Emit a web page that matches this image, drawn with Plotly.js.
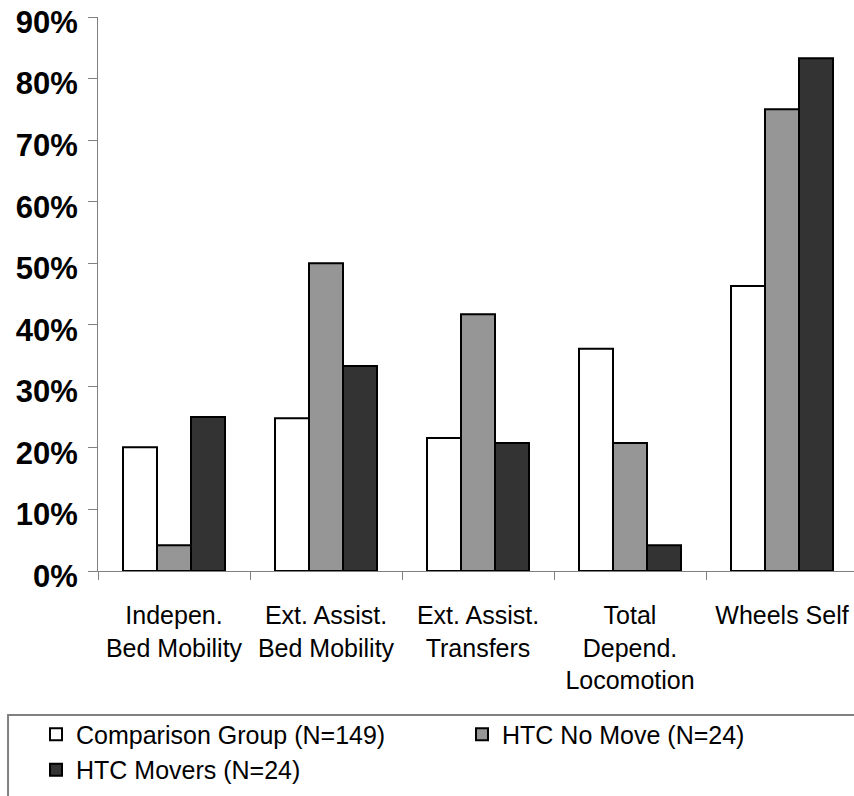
<!DOCTYPE html>
<html>
<head>
<meta charset="utf-8">
<script src="https://cdn.plot.ly/plotly-3.0.1.min.js"></script>
<style>
  html, body { margin: 0; padding: 0; background: #fff; }
  #chart { width: 854px; height: 796px; }
</style>
</head>
<body>
<div id="chart"></div>
<script>
var categories = ["Indepen.<br>Bed Mobility", "Ext. Assist.<br>Bed Mobility", "Ext. Assist.<br>Transfers",
                  "Total<br>Depend.<br>Locomotion", "Wheels Self"];
var comparison = [20.1, 24.8, 21.6, 36.1, 46.3];
var noMove = [4.2, 50.0, 41.7, 20.8, 75.0];
var movers = [25.0, 33.3, 20.8, 4.2, 83.3];
var seriesNames = ["Comparison Group (N=149)", "HTC No Move (N=24)", "HTC Movers (N=24)"];

var font = "Arial, 'Liberation Sans', sans-serif";
var outline = {color: "#000", width: 2};

var trace1 = {
    x: categories, y: comparison, name: seriesNames[0], type: "bar",
    marker: {color: "#ffffff", line: outline}, legend: "legend"
};
var trace2 = {
    x: categories, y: noMove, name: seriesNames[1], type: "bar",
    marker: {color: "#969696", line: outline}, legend: "legend2"
};
var trace3 = {
    x: categories, y: movers, name: seriesNames[2], type: "bar",
    marker: {color: "#333333", line: outline}, legend: "legend"
};

var data = [trace1, trace2, trace3];

var legendFont = {size: 25, family: font, color: "#000"};

var layout = {
    width: 854, height: 796,
    margin: {l: 98, r: 0, t: 17, b: 225, pad: 0},
    paper_bgcolor: "#fff", plot_bgcolor: "#fff",
    font: {family: font, color: "#000"},
    barmode: "group", bargap: 0.329, bargroupgap: 0,
    showlegend: true,
    hovermode: false,
    xaxis: {
        type: "category",
        range: [-0.5, 4.4737],
        showline: true, linecolor: "#808080", linewidth: 1,
        ticks: "outside", tickson: "boundaries", ticklen: 8, tickcolor: "#808080",
        tickfont: {size: 25, family: font, color: "#000"},
        ticklabelstandoff: 22,
        showgrid: false, zeroline: false, automargin: false
    },
    yaxis: {
        range: [0, 90], dtick: 10, ticksuffix: "%",
        showline: true, linecolor: "#808080", linewidth: 1,
        ticks: "outside", ticklen: 9, tickcolor: "#808080",
        tickfont: {size: 31, family: font, color: "#000", weight: "bold"},
        ticklabelstandoff: 4,
        ticklabelshift: 5,
        ticklabeloverflow: "allow",
        showgrid: false, zeroline: false, automargin: false
    },
    legend: {
        orientation: "v",
        x: -0.082, xanchor: "left",
        y: -0.2535, yanchor: "top",
        font: legendFont,
        bgcolor: "rgba(0,0,0,0)", borderwidth: 0,
        traceorder: "normal"
    },
    legend2: {
        orientation: "v",
        x: 0.4815, xanchor: "left",
        y: -0.2535, yanchor: "top",
        font: legendFont,
        bgcolor: "rgba(0,0,0,0)", borderwidth: 0
    },
    shapes: [{
        type: "rect", xref: "paper", yref: "paper",
        x0: -0.119, x1: 1.05, y0: -0.2599, y1: -0.6,
        line: {color: "#808080", width: 2}, fillcolor: "rgba(0,0,0,0)"
    }]
};

Plotly.newPlot("chart", data, layout, {staticPlot: true});
</script>
</body>
</html>
